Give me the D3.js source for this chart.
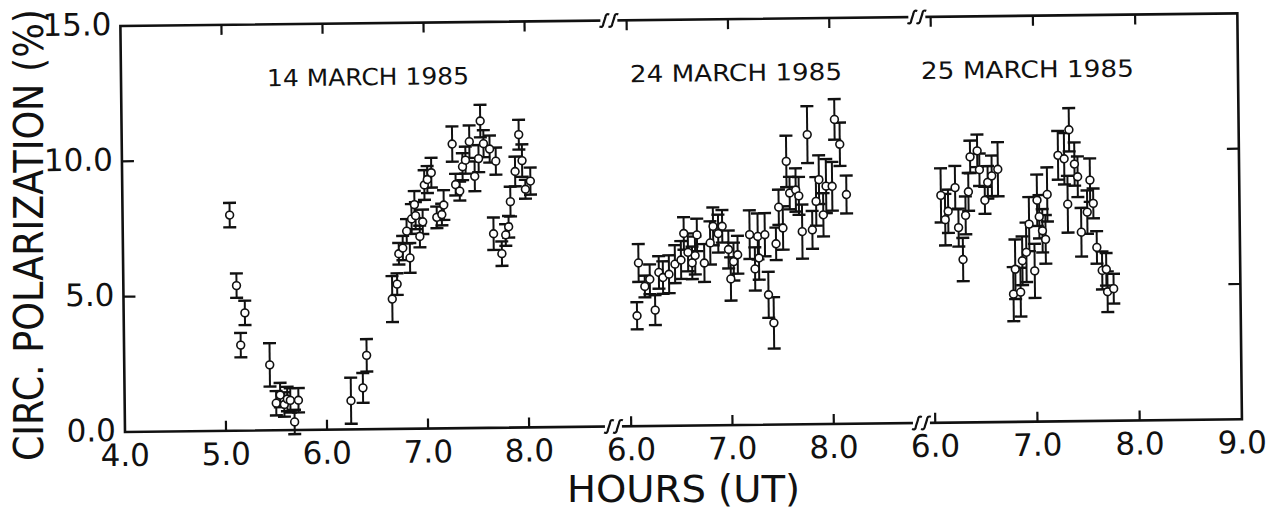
<!DOCTYPE html>
<html>
<head>
<meta charset="utf-8">
<script src="https://cdn.jsdelivr.net/npm/d3@7/dist/d3.min.js"></script>
<style>
  body { margin: 0; background: #fff; }
  svg { display: block; }
  text { font-family: "DejaVu Sans", "Liberation Sans", sans-serif; fill: #111; }
</style>
</head>
<body>
<div id="chart"></div>
<script>
// ---- data (hours UT, circular polarization %, 1-sigma error) ----
var dates = ['14 MARCH 1985', '24 MARCH 1985', '25 MARCH 1985']

var hours14 = [5.06, 5.12, 5.155, 5.20, 5.44, 5.50, 5.54, 5.58, 5.61, 5.64, 5.68, 5.72,
  6.24, 6.36, 6.40, 6.66, 6.71, 6.73, 6.77, 6.81, 6.84, 6.86, 6.89, 6.90, 6.94, 6.97,
  6.99, 7.02, 7.06, 7.11, 7.16, 7.18, 7.27, 7.30, 7.34, 7.37, 7.40, 7.44, 7.49, 7.53,
  7.55, 7.58, 7.64, 7.67, 7.70, 7.75, 7.79, 7.82, 7.84, 7.89, 7.93, 7.96, 7.99, 8.04]
var pol14 = [7.97, 5.36, 3.16, 4.35, 2.42, 1.00, 1.30, 0.95, 1.15, 1.10, 0.30, 1.10,
  1.06, 1.53, 2.73, 4.80, 5.35, 6.47, 6.68, 7.30, 6.31, 7.75, 8.28, 7.87, 7.10, 7.64,
  9.00, 9.20, 9.45, 7.80, 7.90, 8.25, 10.50, 9.00, 8.76, 9.66, 9.90, 10.58, 9.30, 9.95,
  11.34, 10.50, 10.30, 7.17, 9.85, 6.43, 7.12, 7.42, 8.35, 9.46, 10.82, 9.86, 8.80, 9.10]
var err14 = [0.45, 0.45, 0.45, 0.45, 0.80, 0.45, 0.45, 0.45, 0.45, 0.45, 0.45, 0.45,
  0.85, 0.55, 0.60, 0.85, 0.40, 0.40, 0.45, 0.45, 0.55, 0.55, 0.50, 0.50, 0.40, 0.45,
  0.55, 0.50, 0.55, 0.40, 0.40, 0.55, 0.65, 0.40, 0.35, 0.50, 0.50, 0.60, 0.55, 0.50,
  0.60, 0.50, 0.50, 0.60, 0.50, 0.45, 0.40, 0.40, 0.55, 0.55, 0.55, 0.60, 0.35, 0.50]

var hours24 = [6.07, 6.09, 6.15, 6.20, 6.25, 6.29, 6.33, 6.39, 6.45, 6.51, 6.54, 6.58,
  6.62, 6.65, 6.67, 6.74, 6.80, 6.83, 6.88, 6.92, 6.98, 7.00, 7.03, 7.07, 7.19, 7.24,
  7.27, 7.28, 7.34, 7.37, 7.42, 7.45, 7.48, 7.52, 7.56, 7.59, 7.65, 7.68, 7.71, 7.77,
  7.81, 7.85, 7.88, 7.92, 7.95, 8.01, 8.04, 8.09, 8.15]
var pol24 = [4.08, 6.03, 5.16, 5.42, 4.28, 5.67, 5.48, 5.60, 5.97, 6.12, 7.10, 6.40,
  6.01, 6.28, 7.04, 6.00, 6.74, 7.35, 7.08, 7.35, 6.49, 5.40, 6.04, 6.29, 7.03, 5.76,
  6.96, 6.16, 7.02, 4.80, 3.76, 6.68, 8.03, 7.26, 9.72, 8.55, 8.66, 8.44, 7.12, 10.70,
  7.18, 8.23, 9.03, 7.73, 8.79, 8.78, 11.25, 10.33, 8.47]
var err24 = [0.50, 0.70, 0.40, 0.55, 0.55, 0.60, 0.60, 0.70, 0.70, 0.70, 0.60, 0.70,
  0.60, 0.70, 0.60, 0.70, 0.80, 0.70, 0.70, 0.60, 0.70, 0.80, 0.70, 0.70, 0.90, 0.80,
  0.85, 0.80, 0.80, 0.85, 0.95, 0.60, 0.65, 0.80, 0.95, 0.60, 0.80, 0.70, 1.00, 1.05,
  0.70, 0.90, 0.90, 0.80, 1.00, 0.90, 0.75, 0.80, 0.70]

var hours25 = [6.08, 6.12, 6.15, 6.22, 6.25, 6.29, 6.32, 6.35, 6.37, 6.44, 6.46, 6.51,
  6.54, 6.58, 6.64, 6.78, 6.80, 6.85, 6.87, 6.91, 6.94, 6.99, 7.02, 7.04, 7.07, 7.10,
  7.12, 7.23, 7.29, 7.32, 7.34, 7.39, 7.42, 7.45, 7.51, 7.54, 7.57, 7.60, 7.65, 7.69,
  7.70, 7.76]
var pol25 = [8.40, 7.50, 7.81, 8.68, 7.20, 6.02, 7.65, 8.52, 9.81, 10.03, 9.33, 8.20,
  8.86, 9.10, 9.34, 4.72, 5.64, 4.79, 5.95, 6.26, 7.30, 5.57, 8.18, 7.57, 7.05, 6.73,
  8.39, 9.83, 9.70, 8.02, 10.77, 9.50, 9.03, 6.98, 7.72, 8.90, 8.04, 6.41, 5.56, 5.60,
  4.77, 4.88]
var err25 = [1.00, 0.95, 0.80, 0.80, 0.70, 0.80, 0.70, 0.70, 0.60, 0.60, 0.60, 0.50,
  0.60, 0.75, 1.00, 1.00, 1.10, 0.90, 0.90, 1.10, 1.00, 1.00, 0.95, 0.80, 0.80, 0.90,
  1.00, 0.90, 0.95, 1.05, 0.80, 0.80, 0.75, 0.90, 0.80, 0.80, 0.55, 0.60, 0.70, 0.60,
  0.75, 0.55]

// axis ticks per panel (hours) and y ticks (%)
var ticks14 = [4, 5, 6, 7, 8]
var ticks24 = [6, 7, 8]
var ticks25 = [6, 7, 8, 9]
var yTicks = [0, 5, 10, 15]

// ---- layout ----
var W = 1273, H = 510
var fLeft = 125, fRight = 1242, fTop = 26, fBottom = 432
var tilt = -0.65   // the scanned figure sits slightly askew
var breaks = [614, 922]

var y = d3.scaleLinear().domain([0, 15]).range([fBottom, fTop])

var panels = [
  { hours: hours14, pol: pol14, err: err14, ticks: ticks14, dom: [4.0, 8.83], rng: [fLeft, 613], lx: 271, lw: 202 },
  { hours: hours24, pol: pol24, err: err24, ticks: ticks24, dom: [5.82, 8.87], rng: [613, 922], lx: 634, lw: 212 },
  { hours: hours25, pol: pol25, err: err25, ticks: ticks25, dom: [5.87, 9.0], rng: [922, fRight], lx: 925, lw: 213 }
]
panels.forEach(function(p, i){
  p.date = dates[i]
  p.x = d3.scaleLinear().domain(p.dom).range(p.rng)
})

var svg = d3.select('#chart').append('svg')
  .attr('width', W).attr('height', H)

var g = svg.append('g')
  .attr('transform', 'rotate(' + tilt + ',' + fLeft + ',' + fBottom + ')')

// frame
g.append('rect')
  .attr('x', fLeft).attr('y', fTop)
  .attr('width', fRight - fLeft).attr('height', fBottom - fTop)
  .attr('fill', 'none').attr('stroke', '#111').attr('stroke-width', 2.6)

// break marks on top and bottom axes: two slanted long-s strokes
breaks.forEach(function(bx){
  [fTop, fBottom].forEach(function(by){
    var m = g.append('g').attr('transform', 'translate(' + bx + ',' + by + ')')
    m.append('rect').attr('x', -9).attr('y', -2.5).attr('width', 17).attr('height', 5).attr('fill', '#fff')
    ;[-5, 4].forEach(function(o){
      m.append('path')
        .attr('d', 'M' + (o + 5) + ',-6 Q' + (o + 1.5) + ',-7.5 ' + (o + 1) + ',-3 L' + (o - 1) + ',3 Q' + (o - 1.5) + ',7.5 ' + (o - 5) + ',6')
        .attr('fill', 'none').attr('stroke', '#111').attr('stroke-width', 2.2)
    })
  })
})

// x ticks (inward, top and bottom) and labels
var fmt = d3.format('.1f')
panels.forEach(function(p){
  p.ticks.forEach(function(t){
    var tx = p.x(t)
    if (tx > fLeft + 2 && tx < fRight - 2) {
      g.append('line').attr('x1', tx).attr('x2', tx).attr('y1', fBottom).attr('y2', fBottom - 10)
        .attr('stroke', '#111').attr('stroke-width', 2.2)
      g.append('line').attr('x1', tx).attr('x2', tx).attr('y1', fTop).attr('y2', fTop + 10)
        .attr('stroke', '#111').attr('stroke-width', 2.2)
    }
    g.append('text')
      .attr('x', tx).attr('y', fBottom + 34)
      .attr('text-anchor', 'middle')
      .style('font-size', '31px')
      .text(fmt(t))
  })
})

// y ticks (inward, left and right) and labels
yTicks.forEach(function(v){
  var ty = y(v)
  if (v > 0 && v < 15) {
    g.append('line').attr('x1', fLeft).attr('x2', fLeft + 12).attr('y1', ty).attr('y2', ty)
      .attr('stroke', '#111').attr('stroke-width', 2.2)
    g.append('line').attr('x1', fRight).attr('x2', fRight - 12).attr('y1', ty).attr('y2', ty)
      .attr('stroke', '#111').attr('stroke-width', 2.2)
  }
  g.append('text')
    .attr('x', fLeft - 9).attr('y', ty + 9)
    .attr('text-anchor', 'end')
    .style('font-size', '31px')
    .text(fmt(v))
})

// error bars then open circles
panels.forEach(function(p){
  var pts = p.hours.map(function(h, i){ return { h: h, v: p.pol[i], e: p.err[i] } })
  var bars = g.append('g').attr('stroke', '#111').attr('fill', 'none')
  bars.selectAll(null).data(pts).enter().append('line')
    .attr('x1', function(d){ return p.x(d.h) }).attr('x2', function(d){ return p.x(d.h) })
    .attr('y1', function(d){ return y(d.v - d.e) }).attr('y2', function(d){ return y(d.v + d.e) })
    .attr('stroke-width', 2)
  ;[-1, 1].forEach(function(s){
    bars.selectAll(null).data(pts).enter().append('line')
      .attr('x1', function(d){ return p.x(d.h) - 6.5 }).attr('x2', function(d){ return p.x(d.h) + 6.5 })
      .attr('y1', function(d){ return y(d.v + s * d.e) }).attr('y2', function(d){ return y(d.v + s * d.e) })
      .attr('stroke-width', 2.4)
  })
  g.append('g').selectAll('circle').data(pts).enter().append('circle')
    .attr('cx', function(d){ return p.x(d.h) })
    .attr('cy', function(d){ return y(d.v) })
    .attr('r', 3.9)
    .attr('fill', '#fff').attr('stroke', '#111').attr('stroke-width', 1.6)

  g.append('text')
    .attr('x', p.lx).attr('y', 88)
    .attr('textLength', p.lw).attr('lengthAdjust', 'spacingAndGlyphs')
    .style('font-size', '23.5px')
    .text(p.date)
})

// axis titles (the original lettering is narrower than DejaVu, so squeeze it)
svg.append('text')
  .attr('transform', 'translate(43,235) rotate(-90) scale(0.89,1)')
  .attr('text-anchor', 'middle')
  .style('font-size', '41px')
  .text('CIRC. POLARIZATION (%)')

svg.append('text')
  .attr('x', 567).attr('y', 502)
  .attr('textLength', 233).attr('lengthAdjust', 'spacingAndGlyphs')
  .style('font-size', '37px')
  .text('HOURS (UT)')
</script>
</body>
</html>
